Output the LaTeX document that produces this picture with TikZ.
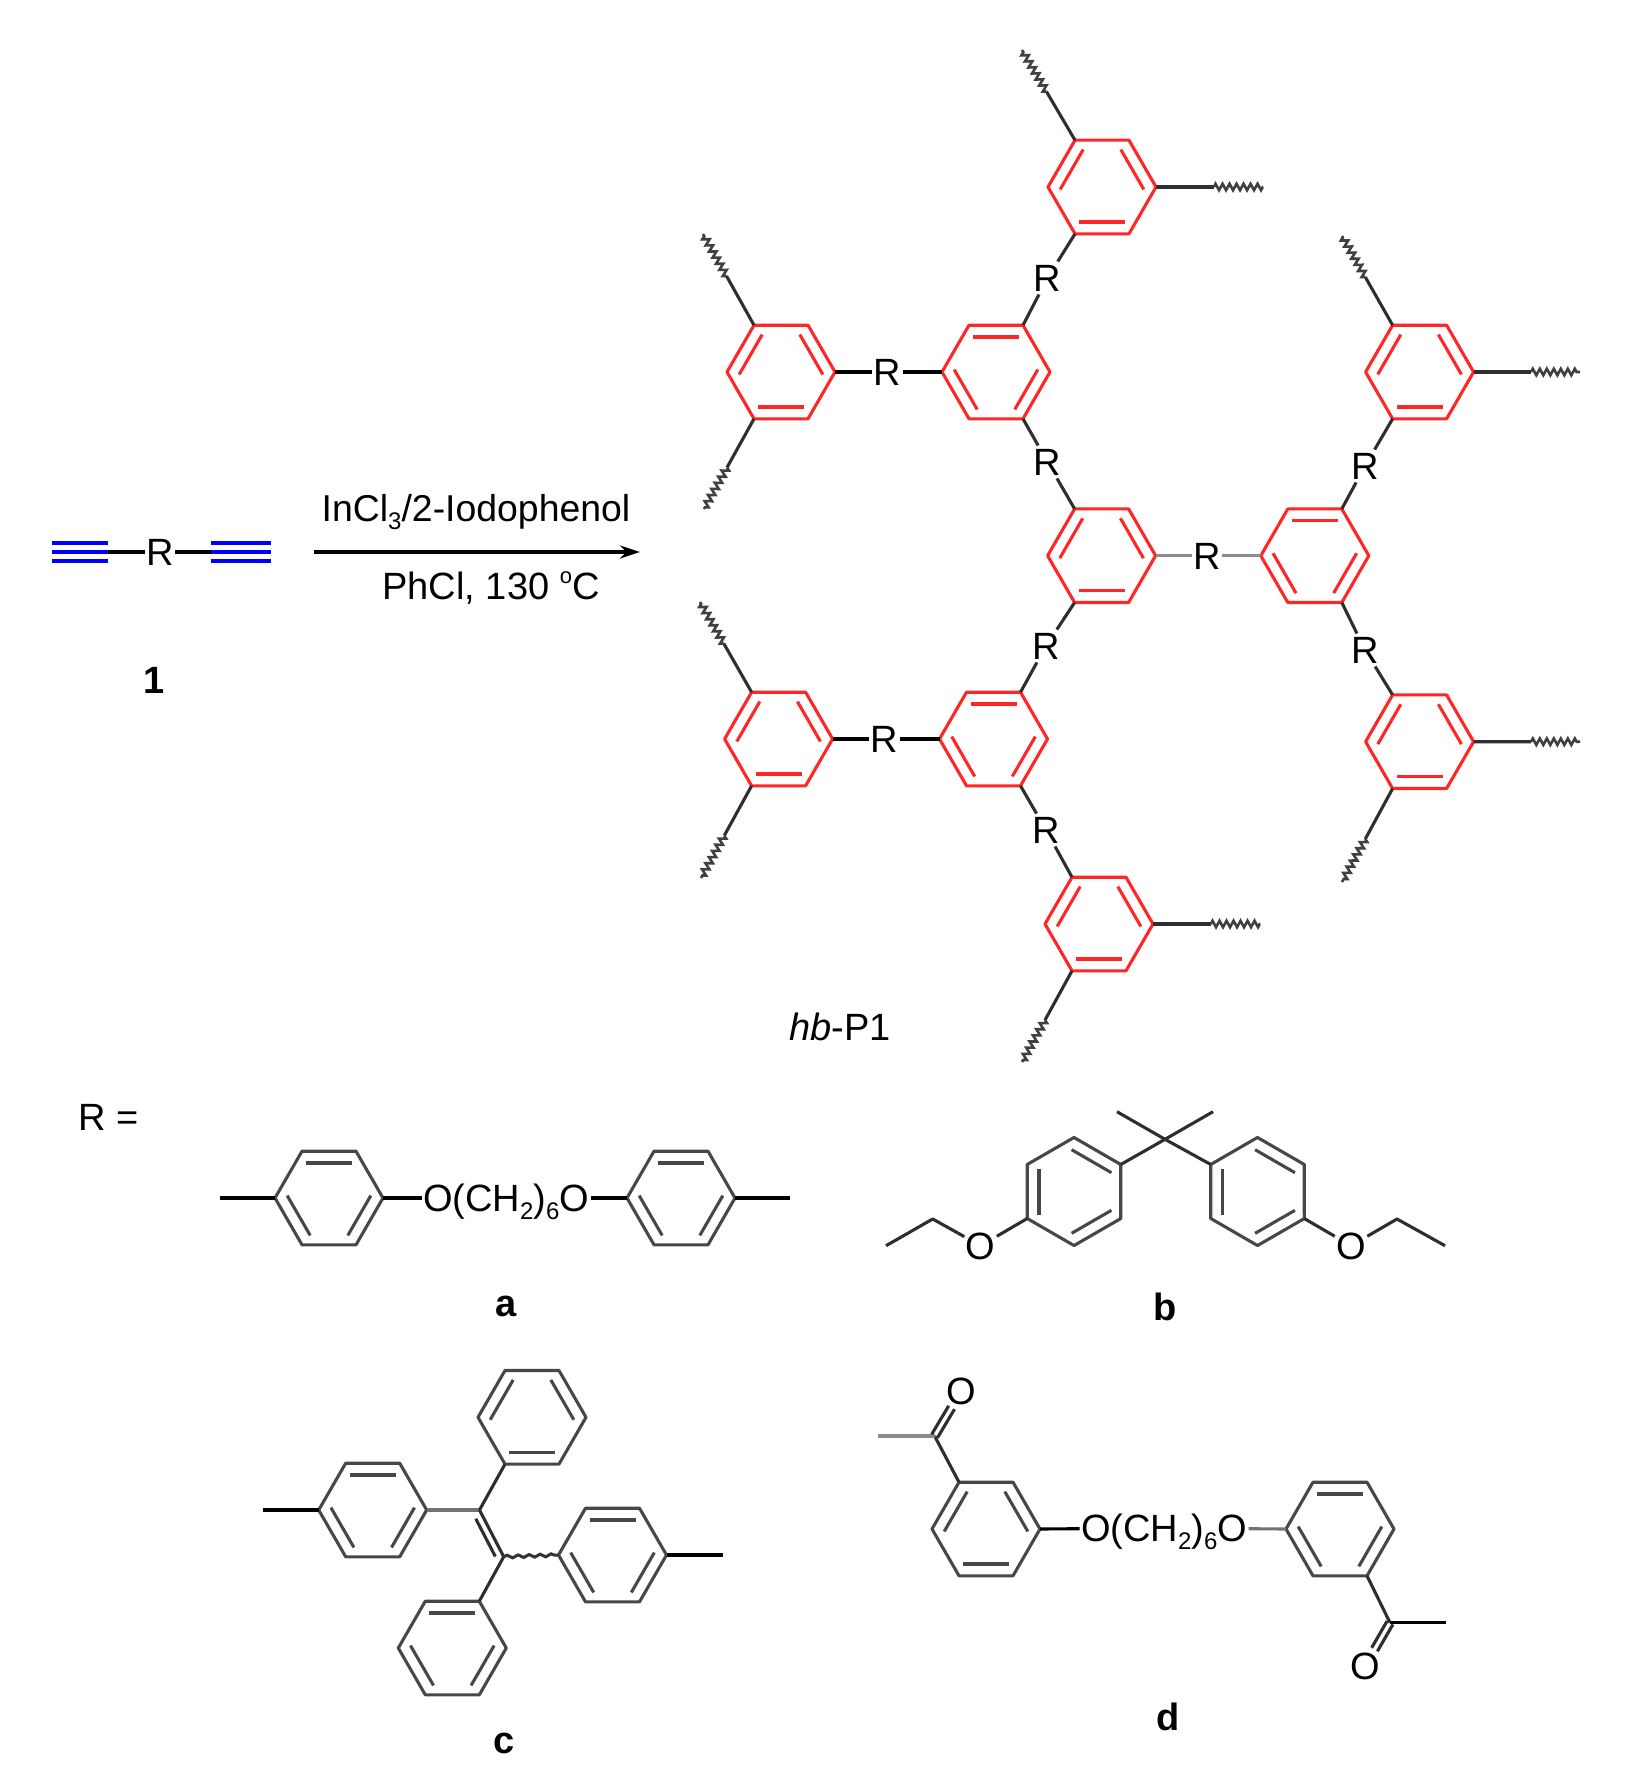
\documentclass[tikz,border=0pt]{standalone}
\usepackage{fontspec}
\setmainfont{Liberation Sans}
\usetikzlibrary{calc,arrows.meta,decorations.pathmorphing}
\tikzset{
  bond/.style={line width=3.1pt,draw=black!82,line join=round},
  redring/.style={line width=3.1pt,draw=red!85!white,line join=round},
  grayring/.style={line width=3.1pt,draw=black!72,line join=round},
  squiggle/.style={line width=2.6pt,draw=black!75,decorate,decoration={zigzag,segment length=7pt,amplitude=3.2pt}},
  tripleb/.style={line width=3.6pt,draw=blue},
  atom/.style={font=\fontsize{38}{40}\selectfont,text height=27pt,text depth=0pt,inner xsep=1.5pt,inner ysep=3pt,outer sep=0pt},
  lbl/.style={font=\fontsize{38}{40}\selectfont\bfseries,text height=27pt,text depth=0pt,inner sep=0pt},
  plain/.style={font=\fontsize{38}{40}\selectfont,inner sep=0pt,anchor=base},
}
\newcommand{\lowtxt}[1]{\raisebox{-0.22em}{\fontsize{24}{24}\selectfont #1}}
\newcommand{\hexring}[6]{%
  \begin{scope}[shift={(#2,#3)},rotate=#5]
    \coordinate (#1-tl) at (-27,-46.8);
    \coordinate (#1-tr) at (27,-46.8);
    \coordinate (#1-r) at (54,0);
    \coordinate (#1-br) at (27,46.8);
    \coordinate (#1-bl) at (-27,46.8);
    \coordinate (#1-l) at (-54,0);
    \draw[#4] (#1-tl)--(#1-tr)--(#1-r)--(#1-br)--(#1-bl)--(#1-l)--cycle;
    \foreach \a in {#6} {\draw[#4,rotate=\a] (-23,-35)--(23,-35);}
  \end{scope}}
\newcommand{\wavy}[4]{%
  \coordinate (#2) at (#3,#4);
  \draw[bond] (#1) -- ($(#1)!0.54!(#2)$);
  \draw[squiggle] ($(#1)!0.54!(#2)$) -- (#2);}
\begin{document}
\begin{tikzpicture}[x=1pt,y=-1pt]
\useasboundingbox (0,0) rectangle (1637,1790);
\fill[white] (0,0) rectangle (1637,1790);

% monomer 1
\node[atom] (m1R) at (160,552) {R};
\coordinate (t1a) at (52,552);
\coordinate (t1b) at (108,552);
\coordinate (t2a) at (211,552);
\coordinate (t2b) at (271,552);
\draw[bond,black] (t1b) -- (m1R);
\draw[bond,black] (m1R) -- (t2a);
\foreach \d in {-9,0,9} {
  \draw[tripleb] ($(t1a)+(0,\d)$) -- ($(t1b)+(0,\d)$);
  \draw[tripleb] ($(t2a)+(0,\d)$) -- ($(t2b)+(0,\d)$);
}
\node[lbl] (m1lab) at (154,680) {1};

% reaction arrow
\coordinate (arrA) at (314,552);
\coordinate (arrB) at (640,552);
\draw[line width=3.2pt,black,-{Stealth[length=20pt,width=13pt]}] (arrA) -- (arrB);
\node[plain,font=\fontsize{37.4}{40}\selectfont] (cond1) at (476,521) {InCl\lowtxt{3}/2-Iodophenol};
\node[plain] (cond2) at (491,599) {PhCl, 130 \raisebox{0.42em}{\fontsize{22}{22}\selectfont o}C};

% hyperbranched polymer rings
\hexring{top}{1102}{187}{redring}{0}{180,60,-60}
\hexring{lo}{781}{372}{redring}{0}{180,60,-60}
\hexring{sa}{996}{372}{redring}{0}{0,120,-120}
\hexring{rt}{1419.6}{372}{redring}{0}{180,60,-60}
\hexring{ce}{1101.6}{555.7}{redring}{0}{180,60,-60}
\hexring{rm}{1314.8}{555.7}{redring}{0}{0,120,-120}
\hexring{lb}{778.6}{739}{redring}{0}{180,60,-60}
\hexring{sb}{993.5}{739}{redring}{0}{0,120,-120}
\hexring{rb}{1419.6}{741.7}{redring}{0}{180,60,-60}
\hexring{bo}{1099}{924}{redring}{0}{180,60,-60}

\node[atom] (R1) at (1047.5,278) {R};
\node[atom] (R2) at (887.6,372) {R};
\node[atom] (R3) at (1047.5,462) {R};
\node[atom] (R4) at (1365,466) {R};
\node[atom] (R5) at (1207,555.7) {R};
\node[atom] (R6) at (1046,646) {R};
\node[atom] (R7) at (1365,650) {R};
\node[atom] (R8) at (884.5,739) {R};
\node[atom] (R9) at (1046,830) {R};

\draw[bond] (top-bl) -- (R1); \draw[bond] (R1) -- (sa-tr);
\draw[bond,black] (lo-r) -- (R2);   \draw[bond,black] (R2) -- (sa-l);
\draw[bond] (sa-br) -- (R3);  \draw[bond] (R3) -- (ce-tl);
\draw[bond] (rt-bl) -- (R4);  \draw[bond] (R4) -- (rm-tr);
\draw[bond,black!45] (ce-r) -- (R5);   \draw[bond,black!45] (R5) -- (rm-l);
\draw[bond] (ce-bl) -- (R6);  \draw[bond] (R6) -- (sb-tr);
\draw[bond] (rm-br) -- (R7);  \draw[bond] (R7) -- (rb-tl);
\draw[bond,black] (lb-r) -- (R8);   \draw[bond,black] (R8) -- (sb-l);
\draw[bond] (sb-br) -- (R9);  \draw[bond] (R9) -- (bo-tl);

\wavy{top-tl}{e1}{1022}{50}
\wavy{top-r}{e2}{1263}{187}
\wavy{lo-tl}{e3}{703}{234}
\wavy{lo-bl}{e4}{704}{509}
\wavy{rt-tl}{e5}{1342}{236}
\wavy{rt-r}{e6}{1580}{372}
\wavy{lb-tl}{e7}{700}{602}
\wavy{lb-bl}{e8}{701}{878}
\wavy{rb-r}{e9}{1580}{741.7}
\wavy{rb-bl}{e10}{1342}{882}
\wavy{bo-r}{e11}{1260}{924}
\wavy{bo-bl}{e12}{1022}{1062}

\node[plain] (hbp) at (840,1040.5) {\textit{hb}-P1};

% R =
\node[atom] (Req) at (108.5,1117) {R =};

% structure a
\hexring{aa}{329}{1198}{grayring}{0}{0,120,-120}
\hexring{ab}{681}{1198}{grayring}{0}{0,120,-120}
\coordinate (a1) at (220,1198);
\coordinate (a2) at (790,1198);
\node[atom] (atxt) at (506,1198) {O(CH\lowtxt{2})\lowtxt{6}O};
\draw[bond,black] (a1) -- (aa-l);
\draw[bond,black] (aa-r) -- (atxt);
\draw[bond,black] (atxt) -- (ab-l);
\draw[bond,black] (ab-r) -- (a2);
\node[lbl] (alab) at (506,1302.5) {a};

% structure b
\hexring{ba}{1074}{1191.5}{grayring}{30}{180,60,-60}
\hexring{bb}{1257.5}{1191.5}{grayring}{30}{180,60,-60}
\node[atom] (bO1) at (980.6,1245.7) {O};
\node[atom] (bO2) at (1351,1245.7) {O};
\coordinate (bC) at (1165,1139.3);
\coordinate (bm1) at (1117,1111.7);
\coordinate (bm2) at (1213,1111.7);
\coordinate (be1) at (886,1245.7);
\coordinate (be2) at (932.7,1219);
\coordinate (be3) at (1397,1219);
\coordinate (be4) at (1445,1245.7);
\draw[bond] (bm1) -- (bC) -- (bm2);
\draw[bond] (ba-r) -- (bC) -- (bb-tl);
\draw[bond] (be1) -- (be2) -- (bO1);
\draw[bond] (bO1) -- (ba-l);
\draw[bond] (bb-br) -- (bO2);
\draw[bond] (bO2) -- (be3) -- (be4);
\node[lbl] (blab) at (1165,1307) {b};

% structure c
\hexring{ct}{532}{1417.3}{grayring}{0}{180,60,-60}
\hexring{cl}{372.7}{1510}{grayring}{0}{0,120,-120}
\hexring{cr}{612.5}{1555}{grayring}{0}{0,120,-120}
\hexring{cb}{452.3}{1648}{grayring}{0}{0,120,-120}
\coordinate (c1) at (479.5,1510);
\coordinate (c2) at (503.7,1556.7);
\coordinate (ce1) at (262.5,1510);
\coordinate (ce2) at (723,1555);
\draw[bond,black] (ce1) -- (cl-l);
\draw[bond,black] (cr-r) -- (ce2);
\draw[bond,black!55] (cl-r) -- (c1);
\draw[bond] (c1) -- (ct-bl);
\draw[bond] (c1) -- (c2);
\draw[bond,shorten <=6pt,shorten >=4pt,transform canvas={xshift=-6.5pt,yshift=-3.4pt}] (c1) -- (c2);
\draw[bond] (c2) -- (cb-tr);
\draw[line width=3pt,draw=black!80,decorate,decoration={snake,segment length=11pt,amplitude=1.4pt}] (c2) -- (cr-l);
\node[lbl] (clab) at (503.7,1739.5) {c};

% structure d
\hexring{da}{986}{1529}{grayring}{0}{180,60,-60}
\hexring{db}{1340}{1529}{grayring}{0}{0,120,-120}
\node[atom] (dtxt) at (1164,1528) {O(CH\lowtxt{2})\lowtxt{6}O};
\coordinate (dc1) at (934.6,1436);
\coordinate (dm1) at (878.4,1436);
\node[atom] (dO1) at (961.4,1391) {O};
\coordinate (dc2) at (1390,1622.7);
\coordinate (dm2) at (1445.5,1622.7);
\node[atom] (dO2) at (1365,1666) {O};
\draw[bond,black] (da-r) -- (dtxt);
\draw[bond,black!55] (dtxt) -- (db-l);
\draw[bond] (dc1) -- (da-tl);
\draw[bond,black!45] (dm1) -- (dc1);
\draw[bond,transform canvas={xshift=-2.9pt,yshift=1.7pt}] (dc1) -- (dO1);
\draw[bond,transform canvas={xshift=2.9pt,yshift=-1.7pt}] (dc1) -- (dO1);
\draw[bond] (db-br) -- (dc2);
\draw[bond,black] (dc2) -- (dm2);
\draw[bond,transform canvas={xshift=2.9pt,yshift=-1.7pt}] (dc2) -- (dO2);
\draw[bond,transform canvas={xshift=-2.9pt,yshift=1.7pt}] (dc2) -- (dO2);
\node[lbl] (dlab) at (1168,1717) {d};
\end{tikzpicture}
\end{document}
